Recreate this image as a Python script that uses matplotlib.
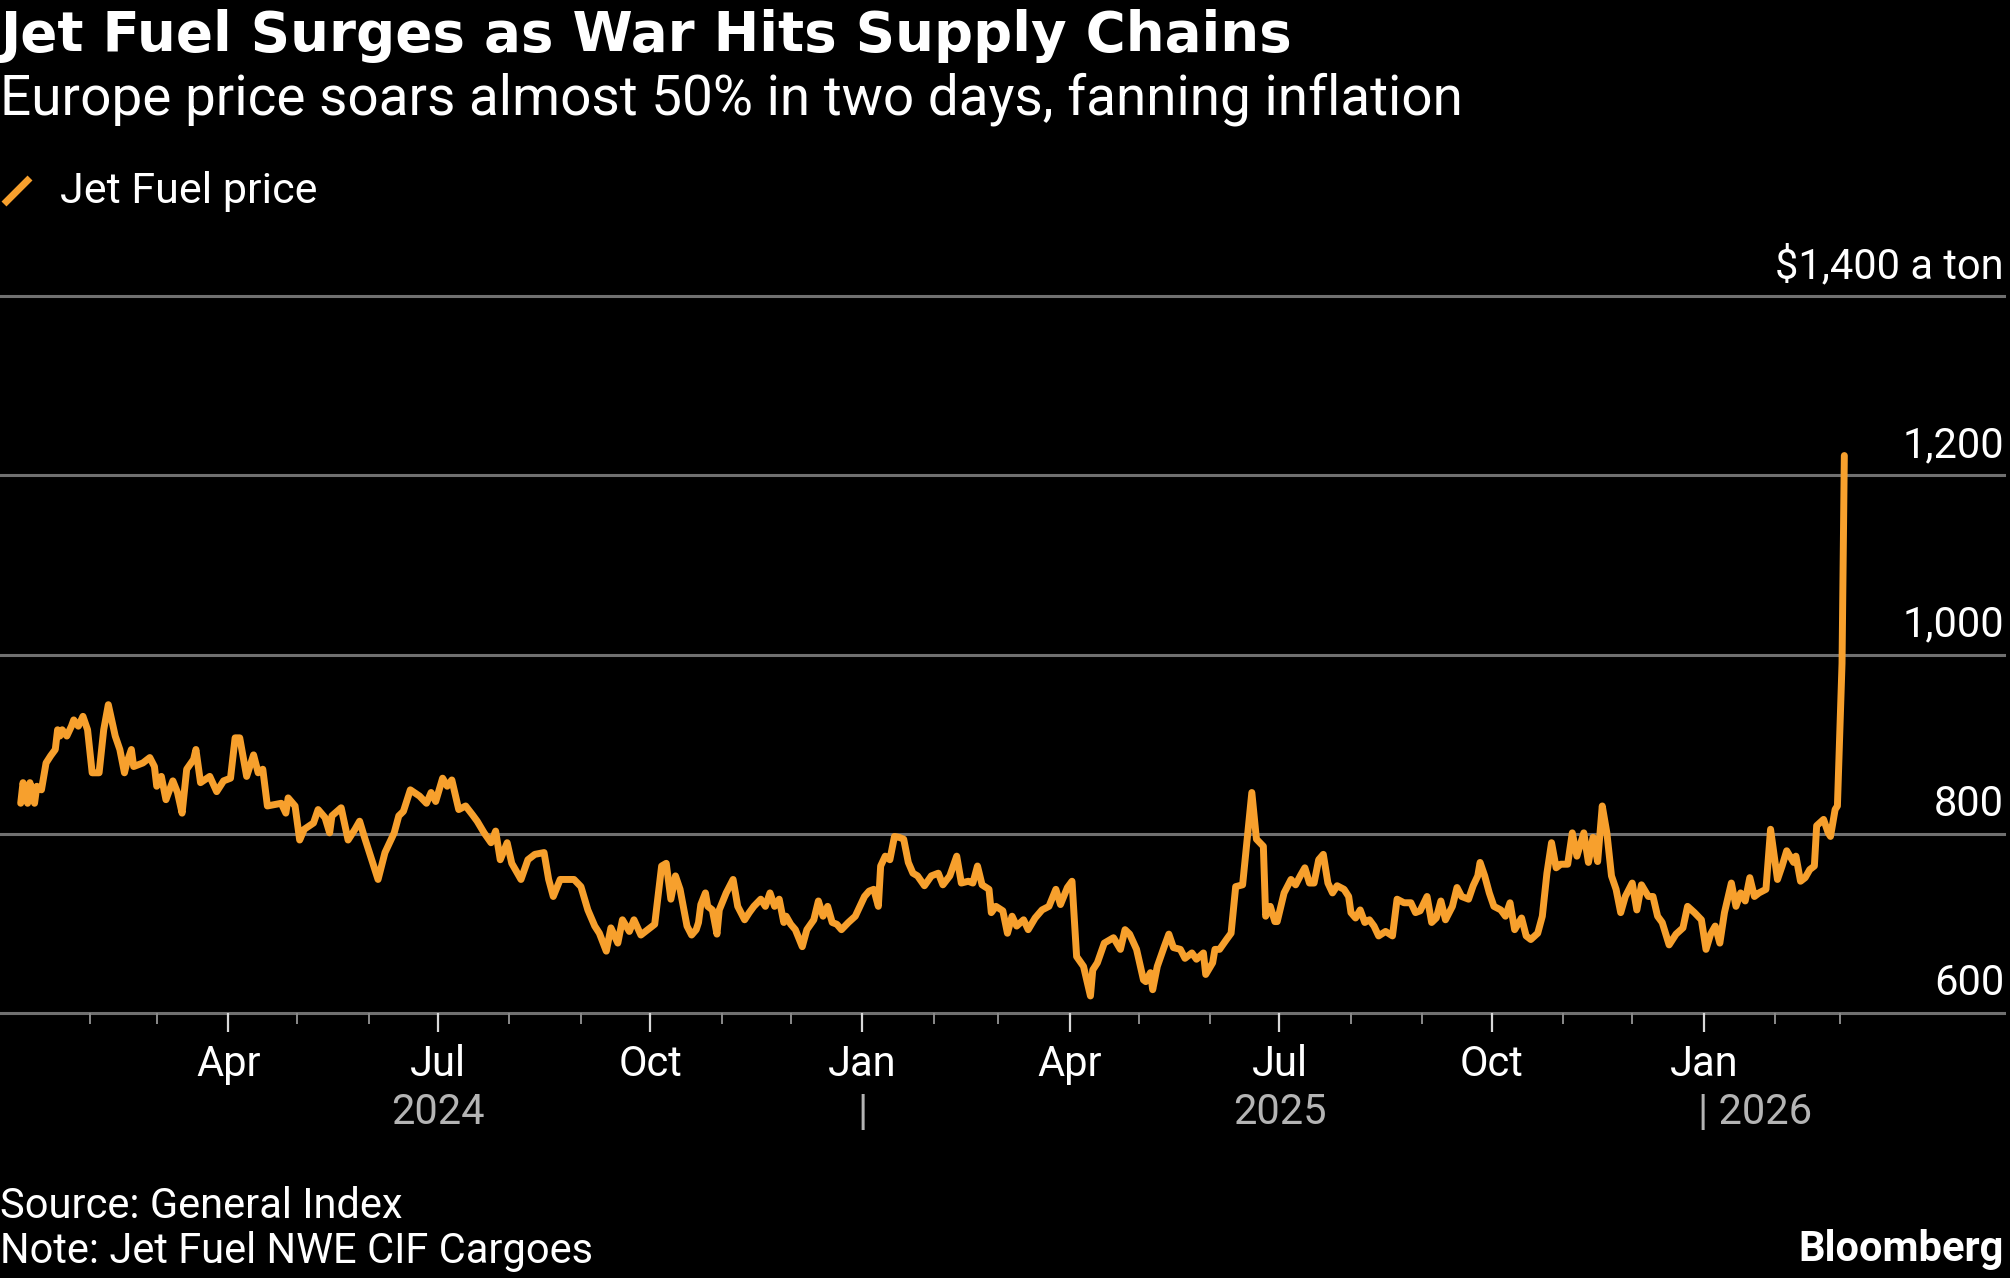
import matplotlib
matplotlib.use("Agg")
import matplotlib.pyplot as plt
import matplotlib.dates as mdates
from matplotlib import font_manager as fm
from matplotlib.lines import Line2D
from matplotlib.ticker import FixedLocator, FixedFormatter
from matplotlib.transforms import blended_transform_factory
import pandas as pd
import datetime as dt

# ---------------- data ----------------
dates = [
    "2024-01-02","2024-01-03","2024-01-05","2024-01-06","2024-01-08","2024-01-09","2024-01-11","2024-01-13",
    "2024-01-15","2024-01-17","2024-01-18","2024-01-19","2024-01-20","2024-01-22","2024-01-24","2024-01-25",
    "2024-01-27","2024-01-29","2024-01-31","2024-02-02","2024-02-05","2024-02-07","2024-02-09","2024-02-12",
    "2024-02-14","2024-02-16","2024-02-17","2024-02-19","2024-02-20","2024-02-24","2024-02-27","2024-02-29",
    "2024-03-01","2024-03-03","2024-03-05","2024-03-08","2024-03-10","2024-03-12","2024-03-14","2024-03-17",
    "2024-03-18","2024-03-20","2024-03-24","2024-03-27","2024-03-30","2024-04-02","2024-04-04","2024-04-06",
    "2024-04-09","2024-04-12","2024-04-14","2024-04-16","2024-04-18","2024-04-24","2024-04-26","2024-04-27",
    "2024-04-30","2024-05-02","2024-05-04","2024-05-08","2024-05-10","2024-05-13","2024-05-15","2024-05-16",
    "2024-05-20","2024-05-23","2024-05-26","2024-05-28","2024-05-30","2024-06-05","2024-06-08","2024-06-12",
    "2024-06-14","2024-06-16","2024-06-19","2024-06-23","2024-06-26","2024-06-28","2024-06-30","2024-07-03",
    "2024-07-05","2024-07-07","2024-07-10","2024-07-13","2024-07-16","2024-07-18","2024-07-21","2024-07-24",
    "2024-07-26","2024-07-28","2024-07-31","2024-08-02","2024-08-06","2024-08-09","2024-08-12","2024-08-16",
    "2024-08-18","2024-08-20","2024-08-23","2024-08-29","2024-09-01","2024-09-04","2024-09-07","2024-09-09",
    "2024-09-12","2024-09-14","2024-09-17","2024-09-19","2024-09-22","2024-09-24","2024-09-27","2024-09-30",
    "2024-10-03","2024-10-06","2024-10-08","2024-10-10","2024-10-12","2024-10-14","2024-10-17","2024-10-19",
    "2024-10-21","2024-10-22","2024-10-23","2024-10-25","2024-10-26","2024-10-28","2024-10-30","2024-10-31",
    "2024-11-03","2024-11-06","2024-11-08","2024-11-11","2024-11-13","2024-11-15","2024-11-18","2024-11-20",
    "2024-11-22","2024-11-24","2024-11-26","2024-11-28","2024-11-29","2024-12-01","2024-12-03","2024-12-06",
    "2024-12-08","2024-12-11","2024-12-13","2024-12-15","2024-12-17","2024-12-19","2024-12-21","2024-12-23",
    "2024-12-26","2024-12-29","2025-01-02","2025-01-04","2025-01-06","2025-01-08","2025-01-09","2025-01-11",
    "2025-01-13","2025-01-15","2025-01-17","2025-01-19","2025-01-21","2025-01-23","2025-01-25","2025-01-28",
    "2025-01-31","2025-02-03","2025-02-05","2025-02-08","2025-02-11","2025-02-13","2025-02-16","2025-02-18",
    "2025-02-20","2025-02-22","2025-02-25","2025-02-26","2025-02-28","2025-03-03","2025-03-05","2025-03-07",
    "2025-03-09","2025-03-12","2025-03-14","2025-03-17","2025-03-20","2025-03-23","2025-03-26","2025-03-28",
    "2025-03-31","2025-04-02","2025-04-04","2025-04-07","2025-04-08","2025-04-10","2025-04-11","2025-04-13",
    "2025-04-16","2025-04-20","2025-04-23","2025-04-25","2025-04-27","2025-04-30","2025-05-03","2025-05-04",
    "2025-05-06","2025-05-07","2025-05-09","2025-05-12","2025-05-14","2025-05-16","2025-05-19","2025-05-21",
    "2025-05-24","2025-05-26","2025-05-29","2025-05-30","2025-06-02","2025-06-03","2025-06-05","2025-06-08",
    "2025-06-10","2025-06-12","2025-06-15","2025-06-17","2025-06-19","2025-06-21","2025-06-24","2025-06-25",
    "2025-06-27","2025-06-29","2025-06-30","2025-07-03","2025-07-06","2025-07-08","2025-07-10","2025-07-12",
    "2025-07-14","2025-07-16","2025-07-18","2025-07-20","2025-07-22","2025-07-24","2025-07-26","2025-07-29",
    "2025-07-31","2025-08-01","2025-08-03","2025-08-05","2025-08-07","2025-08-09","2025-08-11","2025-08-13",
    "2025-08-16","2025-08-19","2025-08-21","2025-08-24","2025-08-27","2025-08-29","2025-08-31","2025-09-03",
    "2025-09-05","2025-09-07","2025-09-09","2025-09-11","2025-09-14","2025-09-16","2025-09-18","2025-09-21",
    "2025-09-23","2025-09-25","2025-09-26","2025-09-28","2025-09-30","2025-10-02","2025-10-05","2025-10-07",
    "2025-10-09","2025-10-11","2025-10-14","2025-10-16","2025-10-18","2025-10-21","2025-10-23","2025-10-25",
    "2025-10-27","2025-10-29","2025-10-31","2025-11-03","2025-11-05","2025-11-07","2025-11-10","2025-11-12",
    "2025-11-14","2025-11-16","2025-11-18","2025-11-20","2025-11-22","2025-11-24","2025-11-26","2025-11-28",
    "2025-12-01","2025-12-03","2025-12-05","2025-12-08","2025-12-10","2025-12-12","2025-12-14","2025-12-17",
    "2025-12-20","2025-12-23","2025-12-25","2025-12-28","2025-12-31","2026-01-02","2026-01-04","2026-01-06",
    "2026-01-08","2026-01-10","2026-01-13","2026-01-15","2026-01-17","2026-01-19","2026-01-21","2026-01-23",
    "2026-01-25","2026-01-28","2026-01-30","2026-02-02","2026-02-04","2026-02-06","2026-02-09","2026-02-10",
    "2026-02-12","2026-02-14","2026-02-16","2026-02-18","2026-02-19","2026-02-22","2026-02-24","2026-02-25",
    "2026-02-27","2026-02-28","2026-03-02","2026-03-03",
]

prices = [
    834, 857, 834, 857, 834, 853, 849, 879,
    887, 894, 916, 909, 916, 909, 920, 927,
    920, 931, 916, 868, 868, 916, 944, 909,
    894, 868, 879, 894, 875, 879, 885, 875,
    853, 864, 838, 859, 846, 823, 872, 883,
    894, 857, 864, 847, 859, 862, 907, 907,
    864, 888, 868, 872, 831, 834, 823, 840,
    831, 793, 805, 812, 827, 818, 801, 820,
    829, 793, 805, 814, 797, 749, 779, 801,
    820, 825, 849, 842, 834, 846, 836, 862,
    853, 860, 827, 831, 821, 814, 801, 790,
    803, 771, 790, 767, 749, 771, 777, 779,
    749, 730, 749, 749, 741, 715, 697, 689,
    669, 695, 678, 704, 691, 704, 687, 693,
    699, 764, 767, 727, 753, 738, 697, 687,
    693, 701, 721, 734, 719, 715, 688, 715,
    734, 749, 719, 704, 712, 719, 727, 719,
    734, 719, 727, 701, 708, 699, 693, 674,
    693, 704, 725, 708, 719, 701, 699, 693,
    701, 708, 730, 736, 738, 719, 764, 775,
    771, 797, 796, 794, 768, 756, 753, 742,
    753, 756, 743, 753, 775, 745, 747, 745,
    764, 743, 738, 712, 719, 714, 689, 708,
    697, 704, 693, 706, 715, 719, 738, 721,
    740, 747, 663, 652, 641, 619, 648, 656,
    678, 684, 671, 693, 688, 671, 637, 635,
    645, 626, 652, 674, 688, 673, 671, 661,
    667, 660, 667, 643, 656, 671, 671, 682,
    689, 741, 743, 794, 846, 794, 786, 708,
    719, 702, 702, 734, 749, 743, 753, 762,
    745, 745, 771, 777, 745, 734, 742, 738,
    730, 712, 706, 715, 701, 704, 697, 686,
    691, 686, 727, 723, 723, 712, 714, 730,
    701, 706, 725, 704, 719, 740, 730, 727,
    742, 753, 768, 753, 734, 719, 715, 708,
    723, 693, 706, 686, 682, 689, 708, 756,
    790, 762, 766, 766, 801, 775, 801, 768,
    796, 769, 831, 801, 753, 738, 712, 730,
    745, 715, 743, 730, 730, 708, 701, 676,
    688, 695, 719, 712, 704, 671, 688, 697,
    678, 712, 745, 719, 734, 725, 751, 730,
    734, 738, 805, 749, 764, 781, 768, 775,
    747, 751, 760, 764, 809, 816, 801, 797,
    827, 831, 990, 1222,
]

y_ticks = [600, 800, 1000, 1200, 1400]
y_tick_labels = ["600", "800", "1,000", "1,200", "$1,400 a ton"]
major_tick_dates = ["2024-04-01", "2024-07-01", "2024-10-01", "2025-01-01",
                    "2025-04-01", "2025-07-01", "2025-10-01", "2026-01-01"]
major_tick_labels = ["Apr", "Jul", "Oct", "Jan", "Apr", "Jul", "Oct", "Jan"]
minor_tick_start, minor_tick_end = "2024-02-01", "2026-03-01"
year_labels = [("2024-07-01", "2024", "center"), ("2025-01-01", "|", "center"),
               ("2025-07-01", "2025", "center"), ("2026-01-01", "| 2026", "left")]

title = "Jet Fuel Surges as War Hits Supply Chains"
subtitle = "Europe price soars almost 50% in two days, fanning inflation"
legend_label = "Jet Fuel price"
source = "Source: General Index"
note = "Note: Jet Fuel NWE CIF Cargoes"
brand = "Bloomberg"

# ---------------- styling ----------------
ORANGE = "#F7A02D"
GRID = "#707070"
BG = "#000000"

names = {f.name for f in fm.fontManager.ttflist}
body_family = "Roboto" if "Roboto" in names else "Liberation Sans"
BODY = dict(family=[body_family, "DejaVu Sans"])

W, H = 2010, 1278
fig = plt.figure(figsize=(W / 100, H / 100), dpi=100, facecolor=BG)

ax_left, ax_right = 0.0, 2004 / W
ax_bottom, ax_top = 1 - 1013 / H, 1 - 296 / H
ax = fig.add_axes([ax_left, ax_bottom, ax_right - ax_left, ax_top - ax_bottom])
ax.set_facecolor(BG)

x = pd.to_datetime(dates)
ax.plot(x, prices, color=ORANGE, lw=5.0, solid_joinstyle="round", solid_capstyle="round", zorder=3)

# x range: keep a constant px/day scale as in reference
px_per_day = (1703.7 - 228.2) / 640.0
x0 = mdates.date2num(dt.datetime(2024, 1, 1)) - 18.4 / px_per_day
x1 = x0 + (ax_right - ax_left) * W / px_per_day
ax.set_xlim(x0, x1)
ax.set_ylim(y_ticks[0], y_ticks[-1])

for s in ax.spines.values():
    s.set_visible(False)

# horizontal gridlines
for yv in y_ticks:
    ax.axhline(yv, color=GRID, lw=2.2, zorder=1, clip_on=False)

# y labels inside the plot on the right, above gridlines
ax.set_yticks([])
tr_y = blended_transform_factory(ax.transAxes, ax.transData)
for yv, lab in zip(y_ticks, y_tick_labels):
    ax.annotate(lab, xy=(1.0, yv), xycoords=tr_y, xytext=(0, 13), textcoords="offset points",
                ha="right", va="baseline", color="white", fontsize=30, **BODY)

# x ticks
major_locs = [mdates.date2num(pd.Timestamp(d)) for d in major_tick_dates]
minor_locs = [mdates.date2num(d) for d in pd.date_range(minor_tick_start, minor_tick_end, freq="MS")]
ax.xaxis.set_major_locator(FixedLocator(major_locs))
ax.xaxis.set_major_formatter(FixedFormatter(major_tick_labels))
ax.xaxis.set_minor_locator(FixedLocator(minor_locs))
ax.tick_params(axis="x", which="major", length=14, width=1.6, color="#d8d8d8",
               labelcolor="white", labelsize=30, pad=8)
ax.tick_params(axis="x", which="minor", length=8, width=1.4, color="#8a8a8a")
for lab in ax.get_xticklabels():
    lab.set_fontfamily(BODY["family"])

# year row
tr_x = blended_transform_factory(ax.transData, ax.transAxes)
for d, lab, ha in year_labels:
    xd = mdates.date2num(pd.Timestamp(d))
    ax.annotate(lab, xy=(xd, 0), xycoords=tr_x, xytext=(-4 if ha == "left" else 0, -72),
                textcoords="offset points", ha=ha, va="center", color="#b4b4b4",
                fontsize=30, annotation_clip=False, **BODY)

# ---------------- header ----------------
fig.text(0.0, 1 - 36 / H, title, ha="left", va="center", color="white",
         fontsize=39.3, fontweight="bold", family=["DejaVu Sans"])
fig.text(0.0, 1 - 99 / H, subtitle, ha="left", va="center", color="white",
         fontsize=39.5, **BODY)

# legend
fig.add_artist(Line2D([4 / W, 30 / W], [1 - 204 / H, 1 - 178 / H], color=ORANGE, lw=5,
                      solid_capstyle="butt", transform=fig.transFigure))
fig.text(60 / W, 1 - 191 / H, legend_label, ha="left", va="center", color="white",
         fontsize=31, **BODY)

# ---------------- footer ----------------
fig.text(0.0, 1 - 1206 / H, source, ha="left", va="center", color="white", fontsize=30, **BODY)
fig.text(0.0, 1 - 1252 / H, note, ha="left", va="center", color="white", fontsize=30, **BODY)
fig.text(2004 / W, 1 - 1250 / H, brand, ha="right", va="center", color="white",
         fontsize=30, fontweight="bold", **BODY)

fig.savefig("out.png", dpi=100, facecolor=BG)
